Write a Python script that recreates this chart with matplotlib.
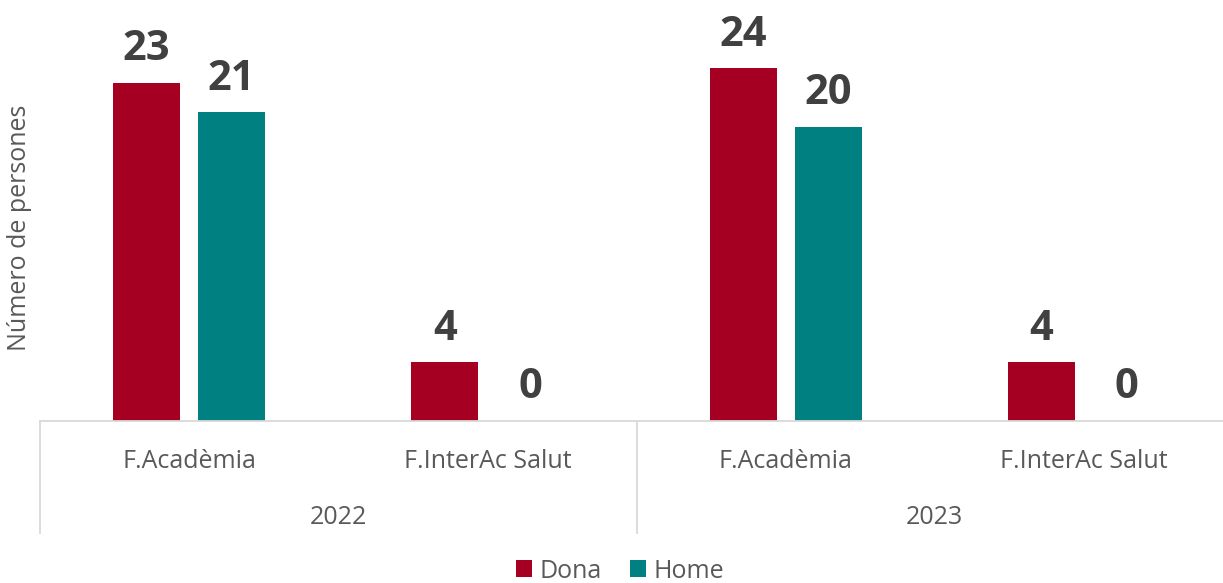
import matplotlib
matplotlib.use("Agg")
import matplotlib.pyplot as plt
import numpy as np

# data
years = ["2022", "2023"]
programs = ["F.Acadèmia", "F.InterAc Salut"]
dona = [23, 4, 24, 4]
home = [21, 0, 20, 0]

RED = "#a50021"
TEAL = "#008080"
TXT = "#595959"
VAL = "#404040"
LINE = "#d9d9d9"

plt.rcParams["font.family"] = ["Open Sans", "DejaVu Sans"]

W, H = 1223, 583
fig = plt.figure(figsize=(W / 100, H / 100), dpi=100)

px_unit = 14.7
ymax = 28
base_y = 421
top_y = base_y - ymax * px_unit
ax = fig.add_axes([40 / W, (H - base_y) / H, 1193 / W, (base_y - top_y) / H])

x = np.arange(len(dona))
off, bw = 0.1425, 0.2246
b1 = ax.bar(x - off, dona, bw, color=RED, label="Dona")
b2 = ax.bar(x + off, home, bw, color=TEAL, label="Home")

for bars, vals in ((b1, dona), (b2, home)):
    for r, v in zip(bars, vals):
        ax.annotate(str(v), (r.get_x() + r.get_width() / 2, v), xytext=(0, 9),
                    textcoords="offset points", ha="center", va="bottom",
                    fontsize=30, fontweight="bold", color=VAL)

ax.set_xlim(-0.5, 3.5)
ax.set_ylim(0, ymax)
ax.set_yticks([])
ax.set_xticks([])
for s in ("top", "right", "left"):
    ax.spines[s].set_visible(False)
ax.spines["bottom"].set_color(LINE)
ax.spines["bottom"].set_linewidth(1.3)

ax_h = base_y - top_y
frac = lambda py: -(py - base_y) / ax_h  # pixel row -> axes fraction

tr = ax.get_xaxis_transform()
for i, p in enumerate(programs * len(years)):
    ax.text(i, frac(461), p, transform=tr, ha="center", va="center",
            fontsize=18, color=TXT)
for j, yr in enumerate(years):
    ax.text(2 * j + 0.5, frac(517), yr, transform=tr, ha="center", va="center",
            fontsize=18, color=TXT)
for xs in (-0.5, 1.5, 3.5):
    ax.plot([xs, xs], [0, frac(533)], transform=tr, color=LINE, lw=1.3,
            clip_on=False)

fig.text(20 / W, 1 - 228 / H, "Número de persones", rotation=90,
         ha="center", va="center", fontsize=18, color=TXT)

fig.legend(handles=[b1, b2], labels=["Dona", "Home"], loc="center",
           bbox_to_anchor=(620 / W, 1 - 571 / H), ncol=2, frameon=False,
           fontsize=18, handlelength=0.65, handleheight=0.65, handletextpad=0.3,
           columnspacing=1.1, labelcolor=TXT)

fig.savefig("out.png", dpi=100, facecolor="white")
